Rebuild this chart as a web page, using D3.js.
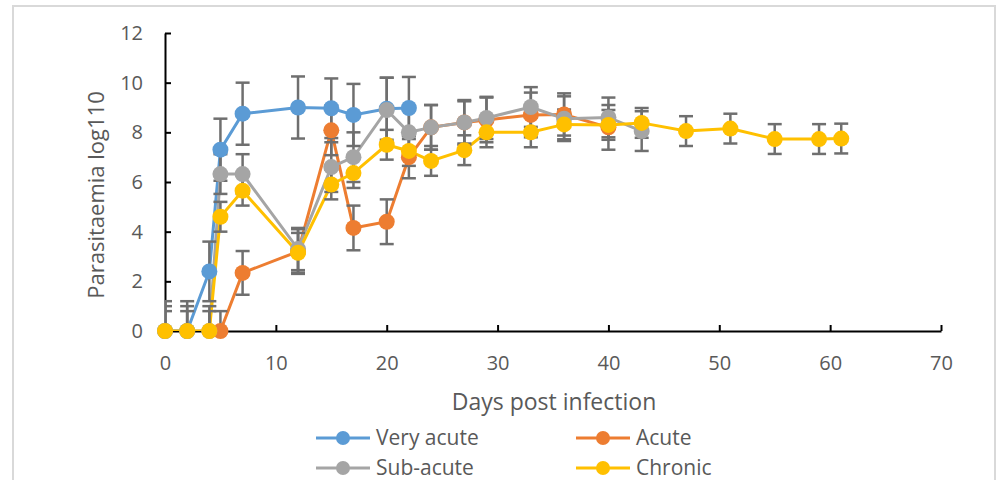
<!DOCTYPE html>
<html lang="en">
  <head>
    <meta charset="UTF-8">
    <title>Parasitaemia</title>
    <script src="https://d3js.org/d3.v7.min.js"></script>
    <style>
      body { margin: 0; background: #fff; }
      svg text { font-family: "Open Sans", "Noto Sans", sans-serif; fill: #595959; }
    </style>
  </head>
  <body>

<script>
  // series values: [day, log parasitaemia, error]
  const veryAcute = [
    [0, 0, 1.2], [2, 0, 1.2], [4, 2.4, 1.2], [5, 7.3, 1.25], [7, 8.75, 1.25],
    [12, 9.0, 1.25], [15, 8.97, 1.2], [17, 8.7, 1.25], [20, 8.95, 1.25], [22, 8.98, 1.25]
  ];
  const acute = [
    [5, 0, 0.8], [7, 2.34, 0.88], [12, 3.2, 0.9], [15, 8.08, 1.0], [17, 4.15, 0.9],
    [20, 4.4, 0.9], [22, 7.0, 0.85], [24, 8.2, 0.9], [27, 8.4, 0.9], [29, 8.5, 0.9],
    [33, 8.7, 0.9], [36, 8.72, 0.85], [40, 8.2, 0.9]
  ];
  const subAcute = [
    [0, 0, 1.0], [2, 0, 1.0], [4, 0, 1.0], [5, 6.32, 0.8], [7, 6.32, 0.8],
    [12, 3.3, 0.85], [15, 6.6, 1.0], [17, 7.0, 1.0], [20, 8.9, 1.3], [22, 8.0, 0.9],
    [24, 8.2, 0.9], [27, 8.4, 0.85], [29, 8.58, 0.85], [33, 9.02, 0.8], [36, 8.55, 0.9],
    [40, 8.6, 0.8], [43, 8.05, 0.8]
  ];
  const chronic = [
    [0, 0, 0.8], [2, 0, 0.8], [4, 0, 0.8], [5, 4.6, 0.6], [7, 5.65, 0.6],
    [12, 3.15, 0.8], [15, 5.9, 0.6], [17, 6.36, 0.6], [20, 7.5, 0.6], [22, 7.25, 0.6],
    [24, 6.85, 0.6], [27, 7.28, 0.6], [29, 8.0, 0.6], [33, 8.0, 0.6], [36, 8.32, 0.6],
    [40, 8.3, 0.6], [43, 8.38, 0.6], [47, 8.05, 0.6], [51, 8.15, 0.6], [55, 7.73, 0.6],
    [59, 7.73, 0.6], [61, 7.75, 0.6]
  ];
  const seriesNames = ["Very acute", "Acute", "Sub-acute", "Chronic"];
  const seriesColors = ["#5b9bd5", "#ed7d31", "#a5a5a5", "#ffc000"];
  const xTicks = [0, 10, 20, 30, 40, 50, 60, 70];
  const yTicks = [0, 2, 4, 6, 8, 10, 12];

  const allSeries = [veryAcute, acute, subAcute, chronic];

  const w = 1000;
  const h = 480;
  const plotL = 165, plotR = 941, plotT = 33, plotB = 331;

  const xScale = d3.scaleLinear().domain([0, 70]).range([plotL, plotR]);
  const yScale = d3.scaleLinear().domain([0, 12]).range([plotB, plotT]);

  const svg = d3.select("body")
                .append("svg")
                .attr("width", w)
                .attr("height", h);

  // chart frame
  svg.append("rect")
     .attr("x", 13).attr("y", 6)
     .attr("width", 982).attr("height", 490)
     .attr("fill", "#fff")
     .attr("stroke", "#d9d9d9")
     .attr("stroke-width", 2);

  svg.append("clipPath").attr("id", "plot")
     .append("rect")
     .attr("x", plotL).attr("y", plotT - 10)
     .attr("width", plotR - plotL + 10).attr("height", plotB - plotT + 10);

  // axes
  const xAxis = d3.axisBottom(xScale).tickValues(xTicks).tickSizeInner(-6).tickSizeOuter(0);
  const gx = svg.append("g")
     .attr("transform", `translate(0, ${plotB})`)
     .call(xAxis);
  gx.selectAll("text").attr("y", 39).attr("dy", 0);

  const yAxis = d3.axisLeft(yScale).tickValues(yTicks).tickSizeInner(-6).tickSizeOuter(0).tickPadding(22);
  const gy = svg.append("g")
     .attr("transform", `translate(${plotL}, 0)`)
     .call(yAxis);

  [gx, gy].forEach(g => {
    g.selectAll("path, line").attr("stroke", "#000").attr("stroke-width", 2);
    g.selectAll("text").style("font-size", "20px").attr("fill", "#595959");
  });

  svg.append("text")
     .attr("x", 554).attr("y", 410)
     .attr("text-anchor", "middle")
     .style("font-size", "23px")
     .text("Days post infection");

  svg.append("text")
     .attr("transform", "translate(104, 195) rotate(-90)")
     .attr("text-anchor", "middle")
     .style("font-size", "22px")
     .text("Parasitaemia log110");

  const plot = svg.append("g").attr("clip-path", "url(#plot)");

  const line = d3.line().x(d => xScale(d[0])).y(d => yScale(d[1]));

  allSeries.forEach((s, i) => {
    plot.append("path")
        .datum(s)
        .attr("d", line)
        .attr("fill", "none")
        .attr("stroke", seriesColors[i])
        .attr("stroke-width", 3);
  });

  // error bars
  allSeries.forEach(s => {
    const eb = plot.append("g").attr("stroke", "#6f6f6f").attr("stroke-width", 2.5);
    s.forEach(d => {
      const x = xScale(d[0]);
      const y1 = yScale(d[1] + d[2]);
      const y2 = yScale(d[1] - d[2]);
      eb.append("line").attr("x1", x).attr("x2", x).attr("y1", y1).attr("y2", y2);
      eb.append("line").attr("x1", x - 7).attr("x2", x + 7).attr("y1", y1).attr("y2", y1);
      eb.append("line").attr("x1", x - 7).attr("x2", x + 7).attr("y1", y2).attr("y2", y2);
    });
  });

  allSeries.forEach((s, i) => {
    svg.append("g").selectAll("circle")
       .data(s)
       .enter()
       .append("circle")
       .attr("cx", d => xScale(d[0]))
       .attr("cy", d => yScale(d[1]))
       .attr("r", 8)
       .attr("fill", seriesColors[i]);
  });

  // legend
  const legX = [316, 576];
  const legY = [438, 468];
  seriesNames.forEach((name, i) => {
    const lx = legX[i % 2], ly = legY[Math.floor(i / 2)];
    const g = svg.append("g");
    g.append("line")
     .attr("x1", lx).attr("x2", lx + 54)
     .attr("y1", ly).attr("y2", ly)
     .attr("stroke", seriesColors[i]).attr("stroke-width", 3);
    g.append("circle").attr("cx", lx + 27).attr("cy", ly).attr("r", 7).attr("fill", seriesColors[i]);
    g.append("text")
     .attr("x", lx + 60).attr("y", ly + 7)
     .style("font-size", "21px")
     .text(name);
  });
</script>

  </body>
</html>
